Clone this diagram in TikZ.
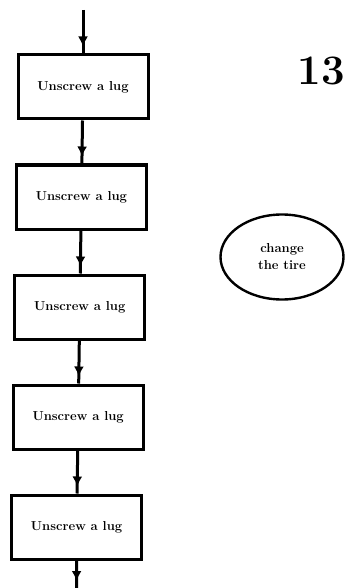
\documentclass[tikz,border=0pt]{standalone}
\usepackage{fontspec}
\usetikzlibrary{positioning,shapes.geometric,decorations.markings,arrows.meta}

\begin{document}
\begin{tikzpicture}[
    x=1pt, y=-1pt,
    decoration={
      markings,
      mark=at position -7pt with {\arrow{Latex[length=10pt,width=10pt]}};
    },
    lugbox/.style={draw, line width=3pt, minimum width=130pt, minimum height=64pt,
      font=\fontsize{13}{15}\selectfont\bfseries},
    flow/.style={line width=3pt, postaction={decorate}},
    node distance=43pt]
    % 固定画布大小
    \useasboundingbox (0,0) rectangle (346,588);
    % 第一个方框
    \node[lugbox] (lug1) at (83,87) {Unscrew a lug};
    % 依次向下排列其余方框,略向左偏
    \node[lugbox, below=of lug1, xshift=-1.6pt] (lug2) {Unscrew a lug};
    \node[lugbox, below=of lug2, xshift=-1.6pt] (lug3) {Unscrew a lug};
    \node[lugbox, below=of lug3, xshift=-1.6pt] (lug4) {Unscrew a lug};
    \node[lugbox, below=of lug4, xshift=-1.6pt] (lug5) {Unscrew a lug};
    % 入口与出口
    \coordinate (start) at (83,10);
    \coordinate (stop) at (76.6,588);
    % 连线
    \draw[flow] (start) -- (lug1);
    \draw[flow] (lug1) -- (lug2);
    \draw[flow] (lug2) -- (lug3);
    \draw[flow] (lug3) -- (lug4);
    \draw[flow] (lug4) -- (lug5);
    \draw[flow] (lug5) -- (stop);
    % 右侧椭圆
    \node[draw, ellipse, line width=2.4pt, minimum width=123pt, minimum height=85pt,
      align=center, font=\fontsize{13}{17}\selectfont\bfseries] (tire) at (282,257) {change\\the tire};
    % 页码
    \node[anchor=north east, inner sep=0pt, font=\fontsize{42}{42}\selectfont\bfseries] (page) at (345,57) {13};
\end{tikzpicture}
\end{document}
